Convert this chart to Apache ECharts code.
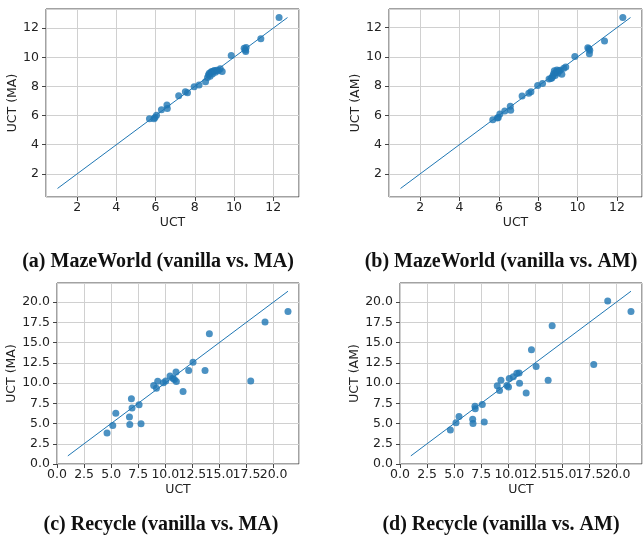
<!DOCTYPE html>
<html>
<head>
<meta charset="utf-8">
<script src="https://cdn.jsdelivr.net/npm/echarts@6/dist/echarts.min.js"></script>
<style>
  html, body { margin: 0; padding: 0; background: #fff; }
  #chart { width: 643px; height: 542px; }
</style>
</head>
<body>
<div id="chart"></div>
<script>
// MazeWorld: vanilla UCT vs. the two variants (same episodes on x)
const mazeVanilla = [5.69, 5.92, 5.97, 6.05, 6.30, 6.58, 6.60, 7.18, 7.52, 7.63, 7.97, 8.22, 8.55, 8.65, 8.70, 8.74, 8.78, 8.82, 8.86, 8.90, 8.95, 9.00, 9.05, 9.12, 9.20, 9.30, 9.40, 9.86, 10.52, 10.58, 10.60, 10.62, 11.37, 12.30]
const mazeMA = [5.78, 5.78, 5.87, 6.02, 6.40, 6.72, 6.48, 7.36, 7.64, 7.57, 7.98, 8.10, 8.33, 8.62, 8.78, 8.90, 8.70, 8.95, 9.02, 8.85, 9.05, 9.10, 8.98, 9.12, 9.08, 9.22, 9.02, 10.13, 10.62, 10.50, 10.40, 10.68, 11.28, 12.73]
const mazeAM = [5.70, 5.82, 5.85, 6.10, 6.30, 6.62, 6.35, 7.33, 7.52, 7.62, 8.05, 8.18, 8.48, 8.52, 8.58, 8.70, 8.85, 9.05, 8.72, 8.95, 9.10, 8.90, 9.05, 9.08, 8.82, 9.22, 9.30, 10.02, 10.62, 10.55, 10.22, 10.45, 11.08, 12.69]

// Recycle
const recycleVanillaMA = [4.62, 5.15, 5.43, 6.69, 6.72, 6.87, 6.93, 7.58, 7.76, 8.93, 9.18, 9.30, 9.82, 10.04, 10.44, 10.69, 10.84, 10.99, 11.02, 11.64, 12.16, 12.56, 13.67, 14.07, 17.89, 19.21, 21.33]
const recycleMA = [3.82, 4.76, 6.28, 5.79, 4.89, 8.05, 6.90, 7.31, 4.97, 9.69, 9.36, 10.22, 10.02, 10.26, 10.88, 10.59, 10.43, 11.37, 10.18, 8.95, 11.54, 12.56, 11.54, 16.09, 10.26, 17.53, 18.84]
const recycleVanillaAM = [4.65, 5.17, 5.45, 6.71, 6.74, 6.92, 6.95, 7.60, 7.78, 8.98, 9.19, 9.32, 9.87, 10.02, 10.09, 10.46, 10.79, 11.00, 11.04, 11.65, 12.14, 12.57, 13.68, 14.05, 17.89, 19.18, 21.33]
const recycleAM = [4.19, 5.09, 5.87, 5.54, 5.01, 7.14, 6.81, 7.35, 5.17, 9.65, 9.07, 10.34, 9.69, 9.52, 10.55, 10.76, 11.21, 11.25, 9.98, 8.78, 14.12, 12.03, 10.34, 17.08, 12.27, 20.11, 18.84]

const captions = [
  '(a) MazeWorld (vanilla vs. MA)',
  '(b) MazeWorld (vanilla vs. AM)',
  '(c) Recycle (vanilla vs. MA)',
  '(d) Recycle (vanilla vs. AM)'
]
const yNames = ['UCT (MA)', 'UCT (AM)', 'UCT (MA)', 'UCT (AM)']

const panels = [
  { x: mazeVanilla, y: mazeMA, step: 2, dec: 0, zero: false },
  { x: mazeVanilla, y: mazeAM, step: 2, dec: 0, zero: false },
  { x: recycleVanillaMA, y: recycleMA, step: 2.5, dec: 1, zero: true },
  { x: recycleVanillaAM, y: recycleAM, step: 2.5, dec: 1, zero: true }
]

const grids = [
  { left: 46, top: 9, width: 253, height: 188 },
  { left: 389, top: 9, width: 253, height: 188 },
  { left: 57, top: 283, width: 242, height: 181 },
  { left: 400, top: 283, width: 242, height: 181 }
]

const blue = '#1f77b4'
const font = 'DejaVu Sans'

const xAxes = []
const yAxes = []
const series = []

panels.forEach((p, i) => {
  const top = Math.max(...p.x, ...p.y)
  const pad = 0.05 * (top - 1)
  const lo = p.zero ? 0 : 1 - pad
  const hi = top + pad
  const axisBase = {
    type: 'value',
    gridIndex: i,
    min: lo,
    max: hi,
    minInterval: p.step,
    maxInterval: p.step,
    axisLine: { show: false },
    axisTick: { show: true, inside: false, length: 4, lineStyle: { color: '#444', width: 1 } },
    splitLine: { show: true, lineStyle: { color: '#d0d0d0', width: 1 } },
    axisLabel: {
      showMinLabel: p.zero,
      showMaxLabel: false,
      color: '#222',
      fontFamily: font,
      fontSize: 12.5,
      formatter: v => v.toFixed(p.dec)
    },
    nameLocation: 'middle',
    nameTextStyle: { color: '#222', fontFamily: font, fontSize: 12.5 }
  }
  xAxes.push(Object.assign({}, axisBase, {
    name: 'UCT',
    nameGap: 19,
    axisLabel: Object.assign({}, axisBase.axisLabel, { margin: 4 })
  }))
  yAxes.push(Object.assign({}, axisBase, {
    name: yNames[i],
    nameGap: p.zero ? 31 : 22,
    axisLabel: Object.assign({}, axisBase.axisLabel, { margin: 7 })
  }))
  series.push({
    type: 'scatter',
    xAxisIndex: i,
    yAxisIndex: i,
    symbolSize: 7,
    itemStyle: { color: blue },
    data: p.x.map((v, k) => [v, p.y[k]]),
    z: 3
  })
  series.push({
    type: 'line',
    xAxisIndex: i,
    yAxisIndex: i,
    symbol: 'none',
    lineStyle: { color: blue, width: 1 },
    data: [[1, 1], [top, top]],
    z: 2
  })
})

const chart = echarts.init(document.getElementById('chart'), null, { renderer: 'canvas' })
chart.setOption({
  animation: false,
  backgroundColor: '#fff',
  title: captions.map((t, i) => ({
    text: t,
    left: [153, 496, 156, 496][i],
    top: [247, 247, 510, 510][i],
    textAlign: 'center',
    textStyle: { fontFamily: 'Liberation Serif', fontWeight: 'bold', fontSize: 20, color: '#111' }
  })),
  grid: grids.map(g => Object.assign({ show: true, borderColor: '#444', borderWidth: 1, backgroundColor: 'transparent' }, g)),
  xAxis: xAxes,
  yAxis: yAxes,
  series: series
})
</script>
</body>
</html>
